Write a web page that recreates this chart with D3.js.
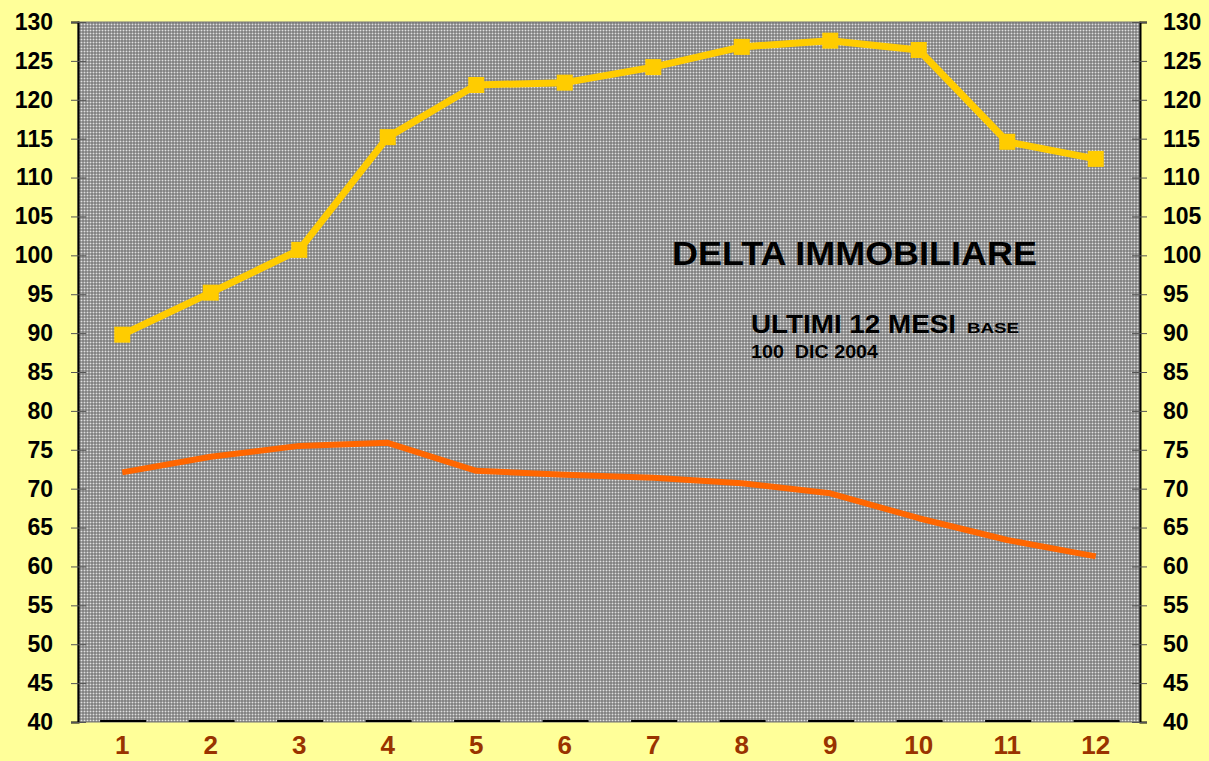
<!DOCTYPE html>
<html>
<head>
<meta charset="utf-8">
<script src="https://cdn.jsdelivr.net/npm/d3@7"></script>
<style>
  body { margin: 0; background: #ffff99; }
  svg { display: block; font-family: Arial, "Liberation Sans", sans-serif; }
</style>
</head>
<body>
<div class="d3-container"></div>
<script>
const months = [1, 2, 3, 4, 5, 6, 7, 8, 9, 10, 11, 12];
const delta = [89.8, 95.2, 100.7, 115.2, 121.9, 122.2, 124.2, 126.8, 127.6, 126.4, 114.6, 112.4];
const base = [72.1, 74.1, 75.5, 75.9, 72.3, 71.8, 71.4, 70.7, 69.4, 66.2, 63.4, 61.3];
const floorBars = [40, 40, 40, 40, 40, 40, 40, 40, 40, 40, 40, 40];
const yTicks = d3.range(40, 131, 5);

const width = 1209;
const height = 761;
const margin = {top: 22, bottom: 39, left: 78, right: 69};

const svg = d3.select(".d3-container")
  .append("svg")
  .attr("width", width)
  .attr("height", height);

// dotted gray fill like the original plot area
const defs = svg.append("defs");
const pat = defs.append("pattern")
  .attr("id", "dots")
  .attr("width", 3)
  .attr("height", 3)
  .attr("patternUnits", "userSpaceOnUse");
pat.append("rect").attr("width", 3).attr("height", 3).attr("fill", "#848484");
pat.append("rect").attr("width", 3).attr("height", 1).attr("fill", "#a2a2a2");
pat.append("rect").attr("width", 1).attr("height", 3).attr("fill", "#a2a2a2");
pat.append("rect").attr("width", 1).attr("height", 1).attr("fill", "#e0e0e0");

const x = d3.scaleBand()
  .domain(months)
  .range([margin.left, width - margin.right]);

const y = d3.scaleLinear()
  .domain([40, 130])
  .range([height - margin.bottom, margin.top]);

svg.append("rect")
  .attr("x", margin.left)
  .attr("y", margin.top)
  .attr("width", width - margin.left - margin.right)
  .attr("height", height - margin.top - margin.bottom)
  .attr("fill", "url(#dots)")
  .attr("stroke", "#777");

// flat bars sitting on the floor
svg.append("g")
  .selectAll("line")
  .data(floorBars)
  .join("line")
  .attr("x1", (d, i) => x(months[i]) + x.bandwidth() * 0.25)
  .attr("x2", (d, i) => x(months[i]) + x.bandwidth() * 0.77)
  .attr("y1", d => y(d) - 1)
  .attr("y2", d => y(d) - 1)
  .attr("stroke", "#000")
  .attr("stroke-width", 2);

function yLeft(g) {
  g.attr("transform", `translate(${margin.left},0)`)
    .call(d3.axisLeft(y).tickValues(yTicks).tickSize(7).tickPadding(18));
  g.select(".domain").attr("stroke", "#000").attr("stroke-width", 2);
  g.selectAll(".tick line").attr("stroke", "#555").attr("x2", 8).attr("x1", -7);
  g.selectAll("text").attr("font-size", 23).attr("font-weight", "bold").attr("fill", "#000");
}

function yRight(g) {
  g.attr("transform", `translate(${width - margin.right},0)`)
    .call(d3.axisRight(y).tickValues(yTicks).tickSize(7).tickPadding(16));
  g.select(".domain").attr("stroke", "#000").attr("stroke-width", 2);
  g.selectAll(".tick line").attr("stroke", "#555").attr("x1", -8).attr("x2", 7);
  g.selectAll("text").attr("font-size", 23).attr("font-weight", "bold").attr("fill", "#000");
}

function xAxis(g) {
  g.attr("transform", `translate(0,${height - margin.bottom})`)
    .call(d3.axisBottom(x).tickSize(0).tickPadding(14));
  g.select(".domain").remove();
  g.selectAll("text").attr("font-size", 26).attr("font-weight", "bold").attr("fill", "#993300");
}

svg.append("g").call(yLeft);
svg.append("g").call(yRight);
svg.append("g").call(xAxis);

const cx = (d, i) => x(months[i]) + x.bandwidth() / 2;

const line = d3.line().x(cx).y(d => y(d));

svg.append("path")
  .datum(base)
  .attr("fill", "none")
  .attr("stroke", "#ff6600")
  .attr("stroke-width", 6)
  .attr("stroke-linejoin", "round")
  .attr("d", line);

svg.append("path")
  .datum(delta)
  .attr("fill", "none")
  .attr("stroke", "#ffcc00")
  .attr("stroke-width", 7)
  .attr("stroke-linejoin", "round")
  .attr("d", line);

svg.append("g")
  .selectAll("rect")
  .data(delta)
  .join("rect")
  .attr("x", (d, i) => cx(d, i) - 8)
  .attr("y", d => y(d) - 8)
  .attr("width", 16)
  .attr("height", 16)
  .attr("fill", "#ffcc00");

// titles
svg.append("text")
  .attr("x", 672)
  .attr("y", 265)
  .attr("font-size", 33)
  .attr("font-weight", "bold")
  .attr("textLength", 365)
  .attr("lengthAdjust", "spacingAndGlyphs")
  .text("DELTA IMMOBILIARE");

svg.append("text")
  .attr("x", 751)
  .attr("y", 333)
  .attr("font-size", 25)
  .attr("font-weight", "bold")
  .attr("textLength", 205)
  .attr("lengthAdjust", "spacingAndGlyphs")
  .text("ULTIMI 12 MESI");

svg.append("text")
  .attr("x", 967)
  .attr("y", 333)
  .attr("font-size", 15)
  .attr("font-weight", "bold")
  .attr("textLength", 52)
  .attr("lengthAdjust", "spacingAndGlyphs")
  .text("BASE");

svg.append("text")
  .attr("x", 751)
  .attr("y", 358)
  .attr("font-size", 18)
  .attr("font-weight", "bold")
  .attr("textLength", 127)
  .attr("lengthAdjust", "spacingAndGlyphs")
  .style("white-space", "pre")
  .text("100  DIC 2004");

svg.node();
</script>
</body>
</html>
